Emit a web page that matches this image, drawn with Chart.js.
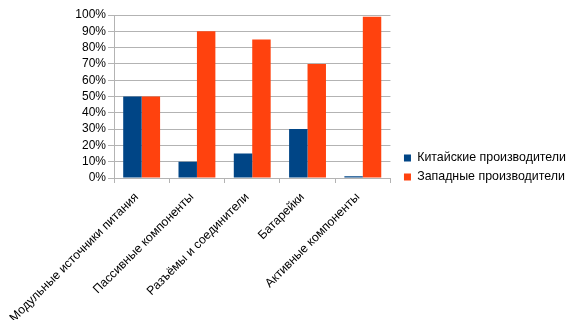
<!DOCTYPE html>
<html>
<head>
<meta charset="utf-8">
<script src="https://cdn.jsdelivr.net/npm/chart.js@4/dist/chart.umd.min.js"></script>
<style>
  html, body { margin: 0; padding: 0; background: #ffffff; }
  #wrap { width: 572px; height: 332px; position: relative; }
</style>
</head>
<body>
<div id="wrap"><canvas id="c" width="572" height="332"></canvas></div>
<script>
// Categories of components
const categories = [
  'Модульные источники питания',
  'Пассивные компоненты',
  'Разъёмы и соединители',
  'Батарейки',
  'Активные компоненты'
];
// Share of each manufacturer group, percent
const chineseShare = [50, 10, 15, 30, 1];
const westernShare = [50, 90, 85, 70, 99];
const seriesNames = ['Китайские производители', 'Западные производители'];
// Y-axis tick values, percent
const yTicks = [0, 10, 20, 30, 40, 50, 60, 70, 80, 90, 100];

const FONT = 'Liberation Sans';
const gridColor = '#b3b3b3';

// Pushes the legend a little further from the plot, into the free right margin
const legendGap = {
  id: 'legendGap',
  afterLayout(chart) {
    const lg = chart.legend;
    if (lg) { lg.left += 7; lg.right += 7; }
  }
};

new Chart(document.getElementById('c'), {
  type: 'bar',
  data: {
    labels: categories,
    datasets: [
      { label: seriesNames[0], data: chineseShare, backgroundColor: '#004586' },
      { label: seriesNames[1], data: westernShare, backgroundColor: '#ff420e' }
    ]
  },
  plugins: [legendGap],
  options: {
    responsive: false,
    animation: false,
    devicePixelRatio: 1,
    layout: { padding: { top: 15, left: 0, right: 3, bottom: 12 } },
    datasets: {
      bar: { categoryPercentage: 0.667, barPercentage: 1.0, borderWidth: 0 }
    },
    plugins: {
      legend: {
        position: 'right',
        maxWidth: 300,
        labels: {
          font: { family: FONT, size: 12.4 },
          color: '#000000',
          boxWidth: 7,
          boxHeight: 7,
          padding: 6.5
        }
      },
      tooltip: { enabled: false }
    },
    scales: {
      x: {
        grid: {
          offset: true,
          drawOnChartArea: false,
          drawTicks: true,
          tickLength: 5,
          color: gridColor
        },
        border: { color: gridColor, width: 1 },
        ticks: {
          font: { family: FONT, size: 12.3 },
          color: '#000000',
          minRotation: 45,
          maxRotation: 45,
          autoSkip: false,
          padding: 7,
          labelOffset: -5
        },
        afterFit(scale) {
          scale.height = 142;
          scale.paddingLeft = 0;
          scale.paddingRight = 0;
        }
      },
      y: {
        min: 0,
        max: 100,
        afterBuildTicks(scale) { scale.ticks = yTicks.map(v => ({ value: v })); },
        grid: { color: gridColor, tickLength: 6, drawTicks: true },
        border: { color: gridColor, width: 1 },
        ticks: {
          font: { family: FONT, size: 12 },
          color: '#000000',
          padding: 2,
          autoSkip: false,
          callback: v => v + '%'
        },
        afterFit(scale) { scale.width = 114; }
      }
    }
  }
});
</script>
</body>
</html>
